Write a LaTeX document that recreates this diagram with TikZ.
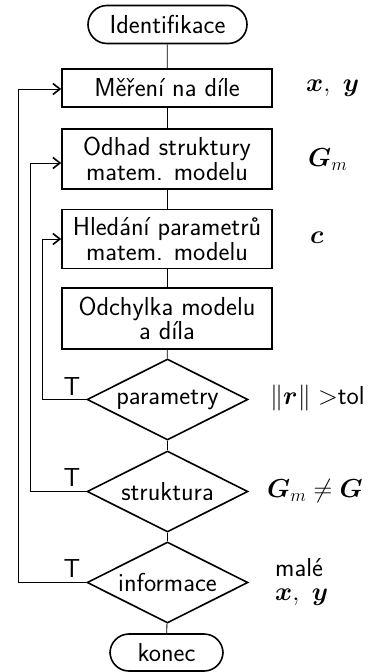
\RequirePackage{fix-cm}
\documentclass[tikz,border=0pt]{standalone}
\usepackage{amsmath}
\usepackage{bm}
\usetikzlibrary{shapes.geometric,arrows.meta}
\renewcommand{\familydefault}{\sfdefault}

\tikzset{
  base/.style={font=\fontsize{26}{24.5}\selectfont\sffamily, align=center, inner sep=0pt},
  term/.style={base, draw, line width=1.6pt, rectangle, rounded corners=19pt, minimum height=38pt},
  proc/.style={base, draw, line width=1.6pt, rectangle, minimum width=210pt},
  test/.style={base, draw, line width=1.6pt, diamond, shape aspect=2, minimum width=161pt, minimum height=81pt},
  flow/.style={line width=0.8pt},
  back/.style={line width=0.8pt, -{Straight Barb[length=7pt,width=11pt,line width=1.6pt]}},
  note/.style={base, anchor=west},
  tag/.style={base}
}

\begin{document}
\begin{tikzpicture}[x=1pt,y=-1pt]
  \useasboundingbox (0,0) rectangle (370,672);

  % main column
  \node[term, minimum width=159pt] (start) at (167.5,24.5) {Identifikace};
  \node[proc, minimum height=38pt] (b1) at (167,88) {Měření na díle};
  \node[proc, minimum height=60pt] (b2) at (167,159) {Odhad struktury\\matem. modelu};
  \node[proc, minimum height=59pt] (b3) at (167,239) {Hledání parametrů\\matem. modelu};
  \node[proc, minimum height=61pt] (b4) at (167,318.5) {Odchylka modelu\\a díla};
  \node[test] (d1) at (167.5,399.5) {parametry};
  \node[test] (d2) at (167.5,491.5) {struktura};
  \node[test] (d3) at (167.5,582.5) {informace};
  \node[term, minimum width=113pt, minimum height=37pt] (stop) at (166.5,652.5) {konec};

  \draw[flow] (start) -- (b1);
  \draw[flow] (b1) -- (b2);
  \draw[flow] (b2) -- (b3);
  \draw[flow] (b3) -- (b4);
  \draw[flow] (b4) -- (d1);
  \draw[flow] (d1) -- (d2);
  \draw[flow] (d2) -- (d3);
  \draw[flow] (d3) -- (stop);

  % return paths
  \coordinate (L1) at (18,0);
  \coordinate (L2) at (30,0);
  \coordinate (L3) at (42,0);
  \draw[back] (d3.west) -- (d3.west -| L1) |- ([yshift=-1pt]b1.west);
  \draw[back] (d2.west) -- (d2.west -| L2) |- ([yshift=-4pt]b2.west);
  \draw[back] (d1.west) -- (d1.west -| L3) |- (b3.west);

  \node[tag] (t1) at (72,387) {T};
  \node[tag] (t2) at (72,478) {T};
  \node[tag] (t3) at (72,569) {T};

  % quantities beside the steps
  \node[note] (n1) at (306,88) {$\bm{x},\ \bm{y}$};
  \node[note] (n2) at (308,160) {$\bm{G}_m$};
  \node[note] (n3) at (310,238) {$\bm{c}$};
  \node[note] (n4) at (270,398) {$\|\bm{r}\| >$tol};
  \node[note] (n5) at (267,491) {$\bm{G}_m \neq \bm{G}$};
  \node[note, align=left] (n6) at (275,582) {malé\\$\bm{x},\ \bm{y}$};
\end{tikzpicture}
\end{document}
